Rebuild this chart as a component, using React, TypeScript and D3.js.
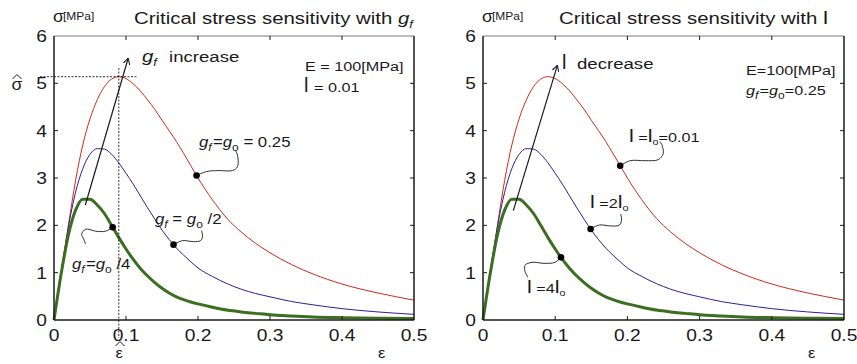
import React from 'react';
import * as d3 from 'd3';

// ---- data ----
const strain = [0, 0.01, 0.02, 0.03, 0.04, 0.05, 0.06, 0.07, 0.08, 0.09, 0.1, 0.11, 0.12, 0.13, 0.14, 0.15, 0.16, 0.17, 0.18, 0.19, 0.2, 0.22, 0.24, 0.26, 0.28, 0.3, 0.33, 0.36, 0.4, 0.45, 0.5];
const stressRed = [0, 1.0, 2.0, 2.95, 3.7, 4.25, 4.65, 4.93, 5.09, 5.14, 5.1, 4.99, 4.84, 4.65, 4.45, 4.22, 4.0, 3.77, 3.52, 3.26, 3.0, 2.54, 2.15, 1.86, 1.62, 1.42, 1.17, 0.97, 0.76, 0.57, 0.42];
const stressBlue = [0, 1.0, 1.97, 2.7, 3.2, 3.5, 3.62, 3.61, 3.5, 3.32, 3.1, 2.87, 2.62, 2.37, 2.13, 1.9, 1.7, 1.52, 1.37, 1.23, 1.1, 0.92, 0.77, 0.65, 0.56, 0.49, 0.39, 0.32, 0.24, 0.17, 0.12];
const stressGreen = [0, 0.98, 1.8, 2.32, 2.55, 2.55, 2.43, 2.25, 2.0, 1.74, 1.5, 1.28, 1.09, 0.93, 0.79, 0.67, 0.57, 0.49, 0.43, 0.38, 0.34, 0.27, 0.21, 0.17, 0.14, 0.11, 0.085, 0.065, 0.05, 0.037, 0.03];
const seriesList = [stressRed, stressBlue, stressGreen];
const seriesColors = ['#cc2b1c', '#2e1f96', '#3b6e1f'];
const seriesWidths = [1, 1, 3];

const xTicks = [0, 0.1, 0.2, 0.3, 0.4, 0.5];
const xTickLabels = ['0', '0.1', '0.2', '0.3', '0.4', '0.5'];
const yTicks = [0, 1, 2, 3, 4, 5, 6];
const yTickLabels = ['0', '1', '2', '3', '4', '5', '6'];

const peakStrain = 0.09;
const peakStress = 5.14;

const leftDots = [0.198, 0.166, 0.0815];
const rightDots = [0.19, 0.149, 0.108];
const leftArrow = [[0.0435, 2.43], [0.103, 5.53]];
const rightArrow = [[0.042, 2.31], [0.103, 5.38]];

// connector shapes (pixel offsets from the dot)
const leftConnectors = [
  [[0, 0], [10, -4], [22, -5], [36, -5], [41, -9], [41, -20], [39, -25]],
  [[0, 0], [9, -4], [20, -3], [27, -4], [29, -8], [28, -14]],
  [[0, 0], [-7, 4], [-17, 4], [-27, 2], [-31, 7], [-29, 12], [-27, 17]],
];
const rightConnectors = [
  [[0, 0], [10, -5], [25, -5], [38, -6], [43, -12], [42, -20], [40, -24]],
  [[0, 0], [9, -4], [20, -3], [29, -4], [31, -10], [30, -15]],
  [[0, 0], [-6, 5], [-17, 6], [-29, 5], [-36, 8], [-36, 14], [-33, 20]],
];

const W = 857;
const H = 364;
const FONT = "'Liberation Sans', Arial, Helvetica, sans-serif";
const SX = 1.2;
const INK = '#1a1a1a';

function T({ x, y, size = 16, anchor = 'start', sx = SX, children, italic = false }: any) {
  return (
    <text
      transform={`translate(${x},${y}) scale(${sx},1)`}
      fontSize={size}
      textAnchor={anchor}
      fontFamily={FONT}
      fontStyle={italic ? 'italic' : 'normal'}
      fill={INK}
    >
      {children}
    </text>
  );
}

function interp(arr: number[], e: number) {
  const i = Math.max(1, d3.bisectLeft(strain, e));
  const t = (e - strain[i - 1]) / (strain[i] - strain[i - 1]);
  return arr[i - 1] + t * (arr[i] - arr[i - 1]);
}

function Panel({ xr, dots, arrow, connectors, children }: any) {
  const x = d3.scaleLinear().domain([0, 0.5]).range(xr);
  const y = d3.scaleLinear().domain([0, 6]).range([320, 36]);
  const line = d3
    .line<number>()
    .x((_, i) => x(strain[i]))
    .y((d) => y(d))
    .curve(d3.curveMonotoneX);
  const conn = d3.line().curve(d3.curveCatmullRom.alpha(0.5));
  const [x0, x1] = xr;
  const y0 = y(0);
  const y1 = y(6);
  return (
    <g>
      {seriesList.map((s, i) => (
        <path key={i} d={line(s) || ''} fill="none" stroke={seriesColors[i]} strokeWidth={seriesWidths[i]} />
      ))}
      {/* frame */}
      <line x1={x0} x2={x1} y1={y1} y2={y1} stroke="#555" strokeWidth={0.8} />
      <line x1={x0} x2={x0} y1={y1} y2={y0} stroke={INK} strokeWidth={1.5} />
      <line x1={x1} x2={x1} y1={y1} y2={y0} stroke={INK} strokeWidth={1.5} />
      <line x1={x0} x2={x1} y1={y0} y2={y0} stroke={INK} strokeWidth={1.5} />
      {xTicks.map((t, i) => (
        <g key={'x' + i}>
          {i > 0 && i < xTicks.length - 1 && (
            <>
              <line x1={x(t)} x2={x(t)} y1={y0} y2={y0 - 4} stroke={INK} strokeWidth={1} />
              <line x1={x(t)} x2={x(t)} y1={y1} y2={y1 + 4} stroke={INK} strokeWidth={1} />
            </>
          )}
          <T x={x(t)} y={341} size={16} anchor="middle">{xTickLabels[i]}</T>
        </g>
      ))}
      {yTicks.map((t, i) => (
        <g key={'y' + i}>
          {i > 0 && i < yTicks.length - 1 && (
            <>
              <line x1={x0} x2={x0 + 4} y1={y(t)} y2={y(t)} stroke={INK} strokeWidth={1} />
              <line x1={x1} x2={x1 - 4} y1={y(t)} y2={y(t)} stroke={INK} strokeWidth={1} />
            </>
          )}
          <T x={x0 - 7} y={y(t) + 6} size={16} anchor="end">{yTickLabels[i]}</T>
        </g>
      ))}
      {/* arrow */}
      <line
        x1={x(arrow[0][0])}
        y1={y(arrow[0][1])}
        x2={x(arrow[1][0])}
        y2={y(arrow[1][1])}
        stroke={INK}
        strokeWidth={1.2}
        markerEnd="url(#arrowHead)"
      />
      {/* connectors + dots */}
      {dots.map((e: number, i: number) => {
        const cx = x(e);
        const cy = y(interp(seriesList[i], e));
        const pts = connectors[i].map((p: number[]) => [cx + p[0], cy + p[1]]);
        return (
          <g key={'d' + i}>
            <path d={conn(pts as any) || ''} fill="none" stroke={INK} strokeWidth={0.9} />
            <circle cx={cx} cy={cy} r={3.3} fill="#000" />
          </g>
        );
      })}
      {/* axis labels */}
      <T x={x0 - 1} y={22} size={16} sx={1.1}>σ</T>
      <T x={x0 + 9} y={20} size={10}>[MPa]</T>
      <T x={x1 - 36} y={358} size={15} sx={1.1}>ε</T>
      {children(x, y)}
    </g>
  );
}

export default function App() {
  return (
    <svg
      width={W}
      height={H}
      viewBox={`0 0 ${W} ${H}`}
      style={{ position: 'absolute', left: 0, top: 0, background: '#fff' }}
    >
      <defs>
        <marker id="arrowHead" viewBox="0 0 10 10" refX="9" refY="5" markerWidth="7" markerHeight="7" orient="auto" markerUnits="userSpaceOnUse">
          <path d="M0,0 L9,5 L0,10" fill="none" stroke={INK} strokeWidth={1.5} />
        </marker>
      </defs>
      <rect x={0} y={0} width={W} height={H} fill="#fff" />
      <Panel xr={[54, 414]} dots={leftDots} arrow={leftArrow} connectors={leftConnectors}>
        {(x: any, y: any) => (
          <g>
            <line x1={40} x2={137} y1={y(peakStress)} y2={y(peakStress)} stroke={INK} strokeWidth={0.9} strokeDasharray="2,1.5" />
            <line x1={x(peakStrain)} x2={x(peakStrain)} y1={68} y2={338} stroke={INK} strokeWidth={0.9} strokeDasharray="2,1.5" />
            {/* sigma hat */}
            <T x={17} y={90} size={16} anchor="middle" sx={1.1}>σ</T>
            <path d="M12.5,79 L17,74.5 L21.5,79" fill="none" stroke={INK} strokeWidth={1} />
            {/* epsilon hat */}
            <T x={x(peakStrain) + 0.5} y={358} size={15} anchor="middle" sx={1.1}>ε</T>
            <path d="M115.5,346 L120,341.5 L124.5,346" fill="none" stroke={INK} strokeWidth={1} />
            <T x={134} y={24} size={17}>
              Critical stress sensitivity with <tspan fontStyle="italic">g</tspan>
              <tspan fontStyle="italic" fontSize={11} dy={4}>f</tspan>
            </T>
            <T x={142} y={62} size={17}>
              <tspan fontStyle="italic">g</tspan>
              <tspan fontStyle="italic" fontSize={11} dy={4}>f</tspan>
            </T>
            <T x={169} y={62} size={15.5}>increase</T>
            <T x={305} y={71} size={13.5}>E = 100[MPa]</T>
            <T x={304} y={92} size={20} sx={1}>l</T>
            <T x={314} y={92} size={13.5}>= 0.01</T>
            <T x={199} y={147} size={14}>
              <tspan fontStyle="italic">g</tspan>
              <tspan fontStyle="italic" fontSize={10} dy={4}>f</tspan>
              <tspan dy={-4} dx={1}>=</tspan>
              <tspan fontStyle="italic">g</tspan>
              <tspan fontSize={10} dy={4}>o</tspan>
              <tspan dy={-4}> = 0.25</tspan>
            </T>
            <T x={155} y={224} size={14}>
              <tspan fontStyle="italic">g</tspan>
              <tspan fontStyle="italic" fontSize={10} dy={4}>f</tspan>
              <tspan dy={-4}> = </tspan>
              <tspan fontStyle="italic">g</tspan>
              <tspan fontSize={10} dy={4}>o</tspan>
              <tspan dy={-4}> /2</tspan>
            </T>
            <T x={72} y={269} size={14}>
              <tspan fontStyle="italic">g</tspan>
              <tspan fontStyle="italic" fontSize={10} dy={4}>f</tspan>
              <tspan dy={-4} dx={1}>=</tspan>
              <tspan fontStyle="italic">g</tspan>
              <tspan fontSize={10} dy={4}>o</tspan>
              <tspan dy={-4}> /4</tspan>
            </T>
          </g>
        )}
      </Panel>
      <Panel xr={[483, 844]} dots={rightDots} arrow={rightArrow} connectors={rightConnectors}>
        {(x: any, y: any) => (
          <g>
            <T x={559} y={24} size={17}>
              Critical stress sensitivity with <tspan fontSize={19}>l</tspan>
            </T>
            <T x={562} y={69} size={20} sx={1}>l</T>
            <T x={577} y={69} size={15.5}>decrease</T>
            <T x={746} y={75} size={13.5}>E=100[MPa]</T>
            <T x={746} y={95} size={13.5}>
              <tspan fontStyle="italic">g</tspan>
              <tspan fontStyle="italic" fontSize={10} dy={4}>f</tspan>
              <tspan dy={-4} dx={1}>=</tspan>
              <tspan fontStyle="italic">g</tspan>
              <tspan fontSize={10} dy={4}>o</tspan>
              <tspan dy={-4}>=0.25</tspan>
            </T>
            <T x={629} y={142} size={13.5}>
              <tspan fontSize={18}>l</tspan>
              <tspan>{' ='}</tspan>
              <tspan fontSize={18}>l</tspan>
              <tspan fontSize={9} dy={3}>o</tspan>
              <tspan dy={-3}>=0.01</tspan>
            </T>
            <T x={590} y={208} size={13.5}>
              <tspan fontSize={18}>l</tspan>
              <tspan>{' =2'}</tspan>
              <tspan fontSize={18}>l</tspan>
              <tspan fontSize={9} dy={3}>o</tspan>
            </T>
            <T x={527} y={293} size={13.5}>
              <tspan fontSize={18}>l</tspan>
              <tspan>{' =4'}</tspan>
              <tspan fontSize={18}>l</tspan>
              <tspan fontSize={9} dy={3}>o</tspan>
            </T>
          </g>
        )}
      </Panel>
    </svg>
  );
}
